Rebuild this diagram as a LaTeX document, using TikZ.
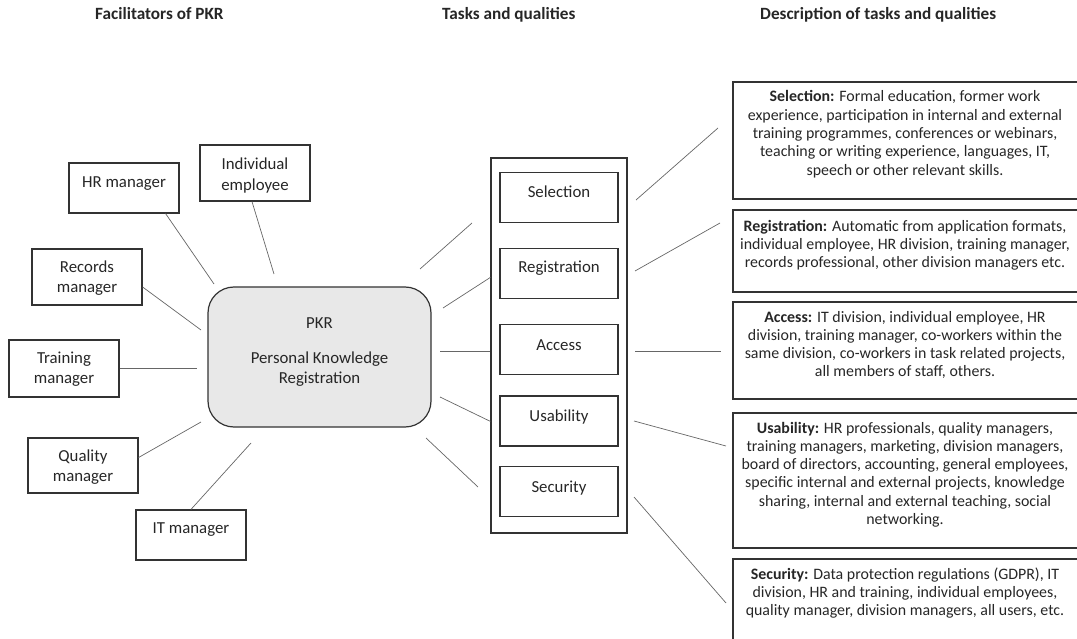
\documentclass[tikz,border=0pt]{standalone}
\usepackage{fontspec}
\setmainfont{Carlito}
\usetikzlibrary{calc}
\begin{document}
\begin{tikzpicture}[x=1pt,y=-1pt,
  every node/.style={font=\fontsize{16.8}{20.8}\selectfont, text=black!85},
  frame/.style={draw=black!80, line width=1.2pt, rectangle, inner sep=0pt},
  smallbox/.style={frame, minimum width=110, minimum height=#1},
  taskbox/.style={frame, minimum width=118, minimum height=50},
  descbox/.style={frame, minimum width=352, minimum height=#1},
  boxtext/.style={align=center, anchor=base, inner sep=0pt},
  desctext/.style={boxtext, font=\fontsize{15.9}{18.3}\selectfont},
  link/.style={draw=black!60, line width=0.7pt},
  heading/.style={font=\fontsize{17.2}{19}\selectfont\bfseries, anchor=base west, inner sep=0pt}]

\useasboundingbox (0,0) rectangle (1077,639);
\begin{scope}
\clip (0,0) rectangle (1077,639);

% column headings
\node[heading] (h1) at (95,20) {Facilitators of PKR};
\node[heading] (h2) at (442,20) {Tasks and qualities};
\node[heading] (h3) at (760,20) {Description of tasks and qualities};

% facilitators (text nodes sit on the baseline of their last line)
\node[smallbox=50] (hr)    at (124,188)   {};
\node[smallbox=56] (indiv) at (255,173)   {};
\node[smallbox=56] (rec)   at (87,277)    {};
\node[smallbox=57] (train) at (64,368.5)  {};
\node[smallbox=55] (qual)  at (83,465.5)  {};
\node[smallbox=50] (itm)   at (191,535)   {};
\node[boxtext] (hrt)    at (124,187.5) {HR manager};
\node[boxtext] (indivt) at (255,190.3) {Individual\\employee};
\node[boxtext] (rect)   at (87,292.8)  {Records\\manager};
\node[boxtext] (traint) at (64,383.8)  {Training\\manager};
\node[boxtext] (qualt)  at (83,481.8)  {Quality\\manager};
\node[boxtext] (itmt)   at (191,533.5) {IT manager};

% central registration
\node[frame, rounded corners=26, fill=black!9, minimum width=223, minimum height=140] (pkr) at (319.5,357) {};
\node[boxtext] (pkrt) at (319.5,383.8) {PKR\\[14.2pt]Personal Knowledge\\Registration};

% tasks and qualities
\node[frame, minimum width=136, minimum height=375] (col) at (559,345.5) {};
\node[taskbox] (sel) at (559,197.5) {};
\node[taskbox] (reg) at (559,273.5) {};
\node[taskbox] (acc) at (559,349.5) {};
\node[taskbox] (usa) at (559,421)   {};
\node[taskbox] (sec) at (559,491.5) {};
\node[boxtext] (selt) at (559,198) {Selection};
\node[boxtext] (regt) at (559,273) {Registration};
\node[boxtext] (acct) at (559,350) {Access};
\node[boxtext] (usat) at (559,421) {Usability};
\node[boxtext] (sect) at (559,492) {Security};

% descriptions
\node[descbox=117] (dsel) at (909,140.5) {};
\node[descbox=82]  (dreg) at (909,251)   {};
\node[descbox=97]  (dacc) at (909,350.5) {};
\node[descbox=135] (dusa) at (909,480.5) {};
\node[descbox=110] (dsec) at (909,614)   {};
\node[desctext] (dselt) at (905,175.2) {\textbf{Selection:} Formal education, former work\\experience, participation in internal and external\\training programmes, conferences or webinars,\\teaching or writing experience, languages, IT,\\speech or other relevant skills.};
\node[desctext] (dregt) at (905,267.6) {\textbf{Registration:} Automatic from application formats,\\individual employee, HR division, training manager,\\records professional, other division managers etc.};
\node[desctext] (dacct) at (905,376.9) {\textbf{Access:} IT division, individual employee, HR\\division, training manager, co-workers within the\\same division, co-workers in task related projects,\\all members of staff, others.};
\node[desctext] (dusat) at (905,524.5) {\textbf{Usability:} HR professionals, quality managers,\\training managers, marketing, division managers,\\board of directors, accounting, general employees,\\specific internal and external projects, knowledge\\sharing, internal and external teaching, social\\networking.};
\node[desctext] (dsect) at (905,615.6) {\textbf{Security:} Data protection regulations (GDPR), IT\\division, HR and training, individual employees,\\quality manager, division managers, all users, etc.};

% free ends of the connectors
\coordinate (e-hr)    at (214,284);
\coordinate (e-indiv) at (274,274);
\coordinate (e-rec)   at (201,330);
\coordinate (e-train) at (197,368.5);
\coordinate (e-qual)  at (201,422);
\coordinate (e-itm)   at (251,443);
\coordinate (p1a) at (420,269); \coordinate (p1b) at (472,223);
\coordinate (p2a) at (443,308);
\coordinate (p3a) at (440,351);
\coordinate (p4a) at (440,397);
\coordinate (p5a) at (426,438); \coordinate (p5b) at (478,487);
\coordinate (q1a) at (636,200); \coordinate (q1b) at (718,128);
\coordinate (q2a) at (635,271); \coordinate (q2b) at (720,223);
\coordinate (q3a) at (635,351); \coordinate (q3b) at (721,351);
\coordinate (q4a) at (634,421); \coordinate (q4b) at (726,446);
\coordinate (q5a) at (634,497); \coordinate (q5b) at (726,603);

% facilitators to registration
\draw[link] ($(hr.south east)+(-14,0)$) -- (e-hr);
\draw[link] ($(indiv.south)+(-3,0)$) -- (e-indiv);
\draw[link] ($(rec.east)+(0,10)$) -- (e-rec);
\draw[link] (train.east) -- (e-train);
\draw[link] ($(qual.east)+(0,-8)$) -- (e-qual);
\draw[link] (itm.north) -- (e-itm);

% registration to tasks
\draw[link] (p1a) -- (p1b);
\draw[link] (p2a) -- ($(col.north west)+(0,120)$);
\draw[link] (p3a) -- (p3a -| col.west);
\draw[link] (p4a) -- ($(col.north west)+(0,264)$);
\draw[link] (p5a) -- (p5b);

% tasks to descriptions
\draw[link] (q1a) -- (q1b);
\draw[link] (q2a) -- (q2b);
\draw[link] (q3a) -- (q3b);
\draw[link] (q4a) -- (q4b);
\draw[link] (q5a) -- (q5b);
\end{scope}
\end{tikzpicture}
\end{document}
